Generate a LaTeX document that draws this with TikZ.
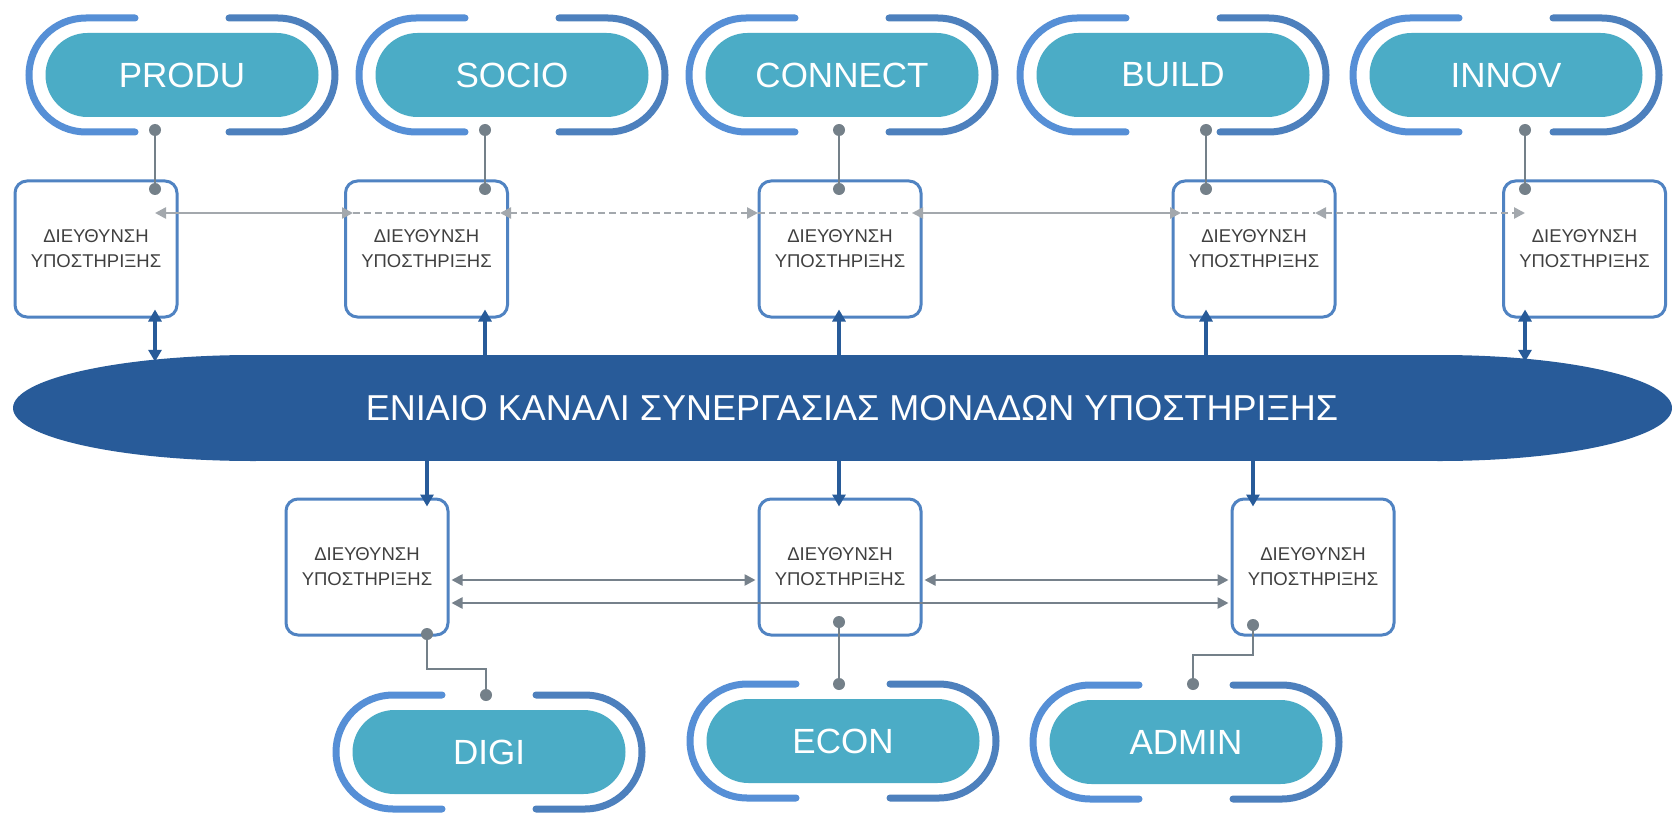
\documentclass[tikz,border=0pt]{standalone}
\usepackage{fontspec}
\setmainfont{Liberation Sans}
\usetikzlibrary{arrows.meta}
\definecolor{pillteal}{HTML}{4BACC6}
\definecolor{brlight}{HTML}{568FD6}
\definecolor{brdark}{HTML}{4D80BD}
\definecolor{boxblue}{HTML}{5083C2}
\definecolor{navyfill}{HTML}{285B99}
\definecolor{dotgray}{HTML}{748089}
\definecolor{dashgray}{HTML}{A3A8AD}
\definecolor{linkgray}{HTML}{76818B}
\definecolor{textgray}{HTML}{404040}
\newcommand\pillunit[4]{%
  \draw[brL, shift={(#2,#3)}] (-47,-57) -- (-153,-57) -- (-153,57) -- (-47,57);
  \draw[brR, shift={(#2,#3)}] (47,-57) -- (153,-57) -- (153,57) -- (47,57);
  \node[pill] (#1) at (#2,#3) {#4};}
\begin{document}
\begin{tikzpicture}[x=1pt,y=-1pt,
  pill/.style={rectangle, rounded corners=42pt, fill=pillteal, minimum width=273pt,
    minimum height=84pt, inner sep=0pt, text=white, font=\fontsize{35}{40}\selectfont},
  brL/.style={draw=brlight, line width=7pt, line cap=round, rounded corners=57pt},
  brR/.style={draw=brdark, line width=7pt, line cap=round, rounded corners=57pt},
  dirbox/.style={rectangle, rounded corners=12pt, draw=boxblue, line width=3pt, fill=white,
    minimum width=162pt, minimum height=136pt, inner sep=0pt, align=center,
    text=textgray, font=\fontsize{18.5}{25}\selectfont},
  dot/.style={circle, fill=dotgray, minimum size=12pt, inner sep=0pt},
  link/.style={draw=dotgray, line width=2.5pt},
  dashline/.style={draw=dashgray, line width=2.5pt, dash pattern=on 7pt off 4pt},
  dasharrow/.style={dashline, {Triangle[length=11pt,width=11pt]}-{Triangle[length=11pt,width=11pt]}},
  solidarrow/.style={draw=dashgray, line width=2.5pt, {Triangle[length=11pt,width=11pt]}-{Triangle[length=11pt,width=11pt]}},
  hgarrow/.style={draw=linkgray, line width=2.5pt, {Triangle[length=11pt,width=11pt]}-{Triangle[length=11pt,width=11pt]}},
  uparrow/.style={draw=navyfill, line width=3.3pt, -{Triangle[length=12pt,width=13pt]}},
  bothbluearrow/.style={draw=navyfill, line width=3.3pt, {Triangle[length=12pt,width=13pt]}-{Triangle[length=12pt,width=13pt]}},
  chanlabel/.style={text=white, font=\fontsize{36}{40}\selectfont}
]
\fill[white] (0,0) rectangle (1672,813);
\useasboundingbox (0,0) rectangle (1672,813);

% ---------- top pills ----------
\pillunit{produ}{182}{75}{PRODU}
\pillunit{socio}{512}{75}{SOCIO}
\pillunit{connect}{842}{75}{CONNECT}
\pillunit{build}{1173}{75}{BUILD}
\pillunit{innov}{1506}{75}{INNOV}

% ---------- bottom pills ----------
\pillunit{digi}{489}{752}{DIGI}
\pillunit{econ}{843}{741}{ECON}
\pillunit{admin}{1186}{742}{ADMIN}

% ---------- top boxes ----------
\node[dirbox] (t1) at (96,249) {ΔΙΕΥΘΥΝΣΗ\\ΥΠΟΣΤΗΡΙΞΗΣ};
\node[dirbox] (t2) at (426.5,249) {ΔΙΕΥΘΥΝΣΗ\\ΥΠΟΣΤΗΡΙΞΗΣ};
\node[dirbox] (t3) at (840,249) {ΔΙΕΥΘΥΝΣΗ\\ΥΠΟΣΤΗΡΙΞΗΣ};
\node[dirbox] (t4) at (1254,249) {ΔΙΕΥΘΥΝΣΗ\\ΥΠΟΣΤΗΡΙΞΗΣ};
\node[dirbox] (t5) at (1584.5,249) {ΔΙΕΥΘΥΝΣΗ\\ΥΠΟΣΤΗΡΙΞΗΣ};

% ---------- bottom boxes ----------
\node[dirbox] (b1) at (367,567) {ΔΙΕΥΘΥΝΣΗ\\ΥΠΟΣΤΗΡΙΞΗΣ};
\node[dirbox] (b2) at (840,567) {ΔΙΕΥΘΥΝΣΗ\\ΥΠΟΣΤΗΡΙΞΗΣ};
\node[dirbox] (b3) at (1313,567) {ΔΙΕΥΘΥΝΣΗ\\ΥΠΟΣΤΗΡΙΞΗΣ};

% ---------- top links (pill dot to box dot) ----------
\node[dot] (pd1) at (155,130) {};  \node[dot] (td1) at (155,189) {};
\node[dot] (pd2) at (485,130) {};  \node[dot] (td2) at (485,189) {};
\node[dot] (pd3) at (839,130) {};  \node[dot] (td3) at (839,189) {};
\node[dot] (pd4) at (1206,130) {}; \node[dot] (td4) at (1206,189) {};
\node[dot] (pd5) at (1525,130) {}; \node[dot] (td5) at (1525,189) {};
\draw[link] (pd1) -- (td1);
\draw[link] (pd2) -- (td2);
\draw[link] (pd3) -- (td3);
\draw[link] (pd4) -- (td4);
\draw[link] (pd5) -- (td5);

% ---------- top horizontal arrows ----------
\coordinate (h1) at (155,213);
\coordinate (h2a) at (353,213);
\coordinate (h2b) at (500,213);
\coordinate (h3a) at (758,213);
\coordinate (h3b) at (912,213);
\coordinate (h4a) at (1181,213);
\coordinate (h4b) at (1315,213);
\coordinate (h5) at (1525,213);
\draw[solidarrow] (h1) -- (h2a);
\draw[dashline] (h2a) -- (h2b);
\draw[dasharrow] (h2b) -- (h3a);
\draw[dashline] (h3a) -- (h3b);
\draw[solidarrow] (h3b) -- (h4a);
\draw[dashline] (h4a) -- (h4b);
\draw[dasharrow] (h4b) -- (h5);

% ---------- bottom horizontal arrows ----------
\coordinate (yA) at (0,580);
\coordinate (yB) at (0,603);
\draw[hgarrow] ([xshift=2pt]b1.east |- yA) -- ([xshift=-2pt]b2.west |- yA);
\draw[hgarrow] ([xshift=2pt]b2.east |- yA) -- ([xshift=-2pt]b3.west |- yA);
\draw[hgarrow] ([xshift=2pt]b1.east |- yB) -- ([xshift=-2pt]b3.west |- yB);

% ---------- bottom links ----------
\node[dot] (bd1) at (427,634) {};  \node[dot] (qd1) at (486,695) {};
\node[dot] (bd2) at (839,622) {};  \node[dot] (qd2) at (839,684) {};
\node[dot] (bd3) at (1253,625) {}; \node[dot] (qd3) at (1193,684) {};
\draw[link] (bd1.center) -- ++(0,35) -| (qd1.center);
\draw[link] (bd2) -- (qd2);
\draw[link] (bd3.center) -- ++(0,30) -| (qd3.center);

% ---------- channel ----------
\fill[navyfill] (253,355) rectangle (1440,461);
\fill[navyfill] (253,408) ellipse [x radius=240pt, y radius=53pt];
\fill[navyfill] (1440,408) ellipse [x radius=232pt, y radius=53pt];
\node[chanlabel, minimum width=1659pt, minimum height=106pt, inner sep=0pt] (chan) at (842,408)
  {\hspace*{20pt}ΕΝΙΑΙΟ ΚΑΝΑΛΙ ΣΥΝΕΡΓΑΣΙΑΣ ΜΟΝΑΔΩΝ ΥΠΟΣΤΗΡΙΞΗΣ};

% ---------- vertical blue arrows ----------
\draw[bothbluearrow] ([yshift=-7pt]pd1 |- chan.north) -- ([yshift=9pt]pd1 |- t1.south);
\draw[uparrow] (pd2 |- chan.north) -- ([yshift=9pt]pd2 |- t2.south);
\draw[uparrow] (pd3 |- chan.north) -- ([yshift=9pt]pd3 |- t3.south);
\draw[uparrow] (pd4 |- chan.north) -- ([yshift=9pt]pd4 |- t4.south);
\draw[bothbluearrow] ([yshift=-7pt]pd5 |- chan.north) -- ([yshift=9pt]pd5 |- t5.south);

\draw[uparrow] (bd1 |- chan.south) -- ([yshift=-9pt]bd1 |- b1.north);
\draw[uparrow] (bd2 |- chan.south) -- ([yshift=-9pt]bd2 |- b2.north);
\draw[uparrow] (bd3 |- chan.south) -- ([yshift=-9pt]bd3 |- b3.north);
\end{tikzpicture}
\end{document}
